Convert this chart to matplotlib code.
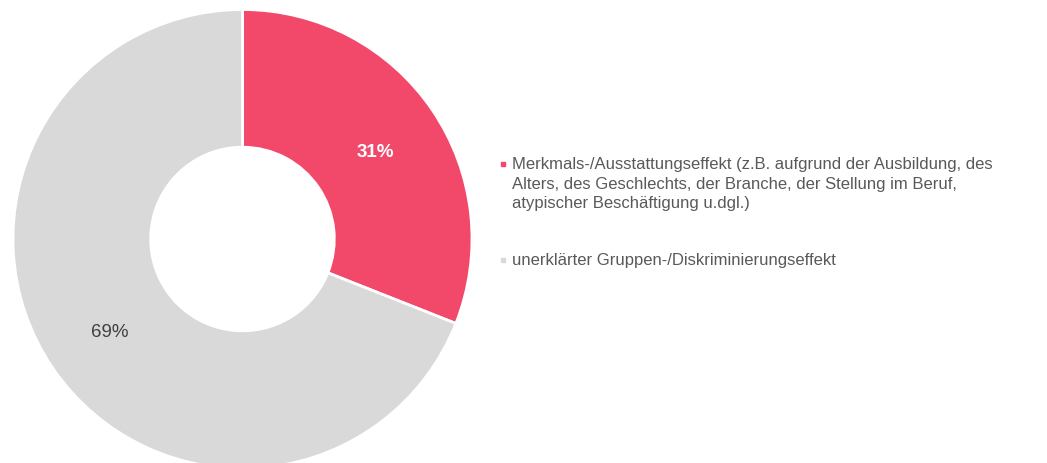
import matplotlib.pyplot as plt
from matplotlib.lines import Line2D

plt.rcParams['font.family'] = ['Liberation Sans', 'DejaVu Sans']

# data
shares = [31, 69]
categories = ['Merkmals-/Ausstattungseffekt (z.B. aufgrund der Ausbildung, des\n'
              'Alters, des Geschlechts, der Branche, der Stellung im Beruf,\n'
              'atypischer Beschäftigung u.dgl.)',
              'unerklärter Gruppen-/Diskriminierungseffekt']
colors = ['#F2496B', '#D9D9D9']

W, H = 1047, 463
fig = plt.figure(figsize=(W/100, H/100), dpi=100)
ax = fig.add_axes([13/W, -5.5/H, 459/W, 459/H])

wedges, texts, pcts = ax.pie(shares, colors=colors, startangle=90, counterclock=False,
                             radius=1, pctdistance=0.70,
                             autopct=lambda p: '%d%%' % round(p),
                             wedgeprops=dict(width=0.6, edgecolor='white', linewidth=2))
for w in wedges:
    w.set_clip_on(False)
pcts[0].set_color('white')
pcts[0].set_fontweight('bold')
pcts[1].set_color('#404040')
for t in pcts:
    t.set_fontsize(13.5)
    t.set_y(t.get_position()[1] - 0.015)
ax.set_xlim(-1, 1)
ax.set_ylim(-1, 1)
ax.set_aspect('equal')
ax.axis('off')

# legend drawn by hand so the marker sits on the first line
tops = [157, 253.5]   # pixel y of first-line cap top
for lab, c, yt in zip(categories, colors, tops):
    fig.text(512.5/W, 1 - yt/H, lab, fontsize=12, color='#595959',
             ha='left', va='top', linespacing=1.38)
    fig.add_artist(Line2D([503/W], [1 - (yt + 6.5)/H], marker='s', markersize=3.2,
                          markerfacecolor=c, markeredgecolor=c, linestyle='none',
                          transform=fig.transFigure))

fig.savefig('out.png', dpi=100)
